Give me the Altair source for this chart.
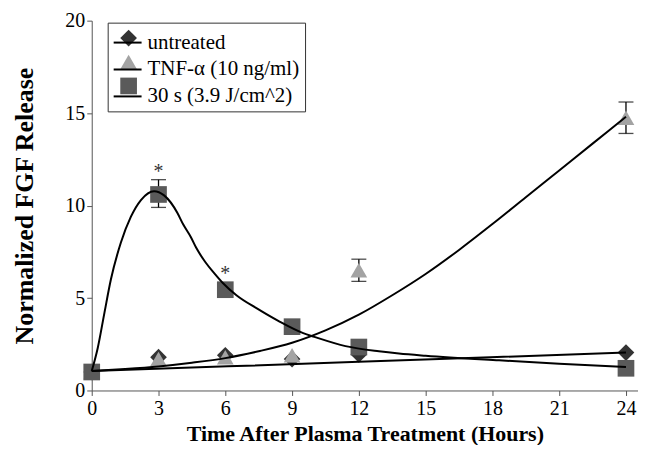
import altair as alt
import pandas as pd

# ---- data ----
hours = [0, 3, 6, 9, 12, 24]
series_names = ["untreated", "TNF-α (10 ng/ml)", "30 s (3.9 J/cm^2)"]
series_codes = ["u", "t", "p"]
untreated = [1.0, 1.8, 1.9, 1.7, 1.95, 2.05]
tnf = [1.0, 1.7, 1.8, 1.9, 6.5, 14.75]
plasma = [1.0, 10.6, 5.45, 3.45, 2.35, 1.2]

err_codes = ["p", "t", "t"]
err_hours = [3, 12, 24]
err_low = [9.9, 5.9, 13.9]
err_high = [11.4, 7.1, 15.6]

star_hours = [3, 6]
star_values = [12.0, 6.47]

fit_untreated_h = [0, 12, 24]
fit_untreated_v = [1.05, 1.55, 2.05]
fit_tnf_h = [0, 1.5, 3, 4.5, 6, 7.5, 9, 10.5, 12, 13.5, 15, 16.5, 18, 19.5, 21, 22.5, 24]
fit_tnf_v = [1.05, 1.16, 1.3, 1.5, 1.75, 2.12, 2.58, 3.25, 4.1, 5.15, 6.3, 7.6, 9.0, 10.45, 11.9, 13.35, 14.8]
fit_plasma_h = [0, 0.27, 0.57, 0.86, 1.31, 1.76, 2.21, 2.8, 3.25, 3.85, 4.1, 4.45, 4.7, 5.1,
                5.5, 5.9, 6.5, 7.4, 8.4, 9.5, 10, 11.4, 12.9, 13.8, 15, 18.3, 21, 24]
fit_plasma_v = [1.05, 2.3, 4.2, 6.0, 8.0, 9.4, 10.3, 10.78, 10.55, 9.6, 9.0, 8.3, 7.7, 6.95,
                6.35, 5.8, 5.15, 4.45, 3.75, 3.1, 2.9, 2.4, 2.12, 2.0, 1.88, 1.63, 1.45, 1.27]

fill_colors = ["#333333", "#a3a3a3", "#5a5a5a"]
shapes = ["diamond", "triangle-up", "square"]
FONT = "Liberation Serif, Times New Roman, Times, serif"

# ---- tables ----
rows = []
for code, vals in zip(series_codes, [untreated, tnf, plasma]):
    for h, v in zip(hours, vals):
        rows.append({"hour": h, "value": v, "code": code})
pts = pd.DataFrame(rows)

fit_rows = []
for name, hs, vs in zip(series_names,
                        [fit_untreated_h, fit_tnf_h, fit_plasma_h],
                        [fit_untreated_v, fit_tnf_v, fit_plasma_v]):
    for h, v in zip(hs, vs):
        fit_rows.append({"hour": h, "value": v, "key": name})
fits = pd.DataFrame(fit_rows)

errs = pd.DataFrame({"hour": err_hours, "lo": err_low, "hi": err_high, "code": err_codes})
stars = pd.DataFrame({"hour": star_hours, "value": star_values})

xscale = alt.Scale(domain=[0, 24.54], nice=False, zero=False)
yscale = alt.Scale(domain=[0, 20], nice=False)

x_axis = alt.Axis(values=[0, 3, 6, 9, 12, 15, 18, 21, 24], format="d",
                  title="Time After Plasma Treatment (Hours)",
                  titleY=33, titleBaseline="top", labelFlush=False)
y_axis = alt.Axis(values=[0, 5, 10, 15, 20], format="d",
                  title="Normalized FGF Release",
                  titleX=-67, titleBaseline="middle", labelPadding=2)

X = alt.X("hour:Q", scale=xscale, axis=x_axis)
Y = alt.Y("value:Q", scale=yscale, axis=y_axis)

leg_pts = alt.Legend(orient="none", legendX=21.5, legendY=2, padding=5, title=None,
                     labelFont=FONT, labelFontSize=21, labelOpacity=0, labelLimit=300,
                     rowPadding=2, symbolSize=280, symbolStrokeWidth=0, symbolOpacity=1,
                     labelOffset=5, zindex=1)
leg_lines = alt.Legend(orient="none", legendX=16, legendY=2, padding=5, title=None,
                       labelFont=FONT, labelFontSize=21, labelColor="black", labelLimit=300,
                       rowPadding=2, symbolSize=784, symbolStrokeWidth=2, symbolType="stroke",
                       symbolStrokeColor="black", labelOffset=5, strokeColor="#333333",
                       zindex=2)

bars = alt.Chart(errs).mark_rule(color="black", strokeWidth=1.3).encode(
    x=alt.X("hour:Q", scale=xscale), y=alt.Y("lo:Q", scale=yscale), y2="hi:Q")
cap_lo = alt.Chart(errs).mark_tick(color="black", thickness=1.3, size=15, orient="horizontal").encode(
    x=alt.X("hour:Q", scale=xscale), y=alt.Y("lo:Q", scale=yscale))
cap_hi = alt.Chart(errs).mark_tick(color="black", thickness=1.3, size=15, orient="horizontal").encode(
    x=alt.X("hour:Q", scale=xscale), y=alt.Y("hi:Q", scale=yscale))

points = alt.Chart(pts).mark_point(filled=True, opacity=1, size=280).encode(
    x=X, y=Y,
    fill=alt.Fill("code:N", scale=alt.Scale(domain=series_codes, range=fill_colors), legend=leg_pts),
    shape=alt.Shape("code:N", scale=alt.Scale(domain=series_codes, range=shapes), legend=leg_pts),
)

lines = alt.Chart(fits).mark_line(strokeWidth=2, interpolate="monotone").encode(
    x=alt.X("hour:Q", scale=xscale), y=alt.Y("value:Q", scale=yscale),
    stroke=alt.Stroke("key:N", scale=alt.Scale(domain=series_names, range=["black", "black", "black"]),
                      legend=leg_lines),
)

star_text = alt.Chart(stars).mark_text(text="*", font=FONT, fontSize=20, color="#333333",
                                       baseline="alphabetic", dy=9.5).encode(
    x=alt.X("hour:Q", scale=xscale), y=alt.Y("value:Q", scale=yscale))

chart = alt.layer(bars, cap_lo, cap_hi, points, lines, star_text).resolve_scale(
    fill="independent", shape="independent", stroke="independent"
).properties(
    width=548, height=371,
    padding={"left": 84, "top": 12, "right": 0, "bottom": 54},
    autosize=alt.AutoSizeParams(type="none"),
).configure_view(stroke=None).configure_axis(
    grid=False, domainColor="#555555", tickColor="#555555", tickSize=5,
    labelFont=FONT, labelFontSize=20, labelColor="black", labelPadding=3,
    titleFont=FONT, titleFontWeight="bold", titleFontSize=22, titleColor="black",
).configure_axisY(titleFontSize=26)

chart.save("out.html", embed_options={"renderer": "svg", "actions": False})
